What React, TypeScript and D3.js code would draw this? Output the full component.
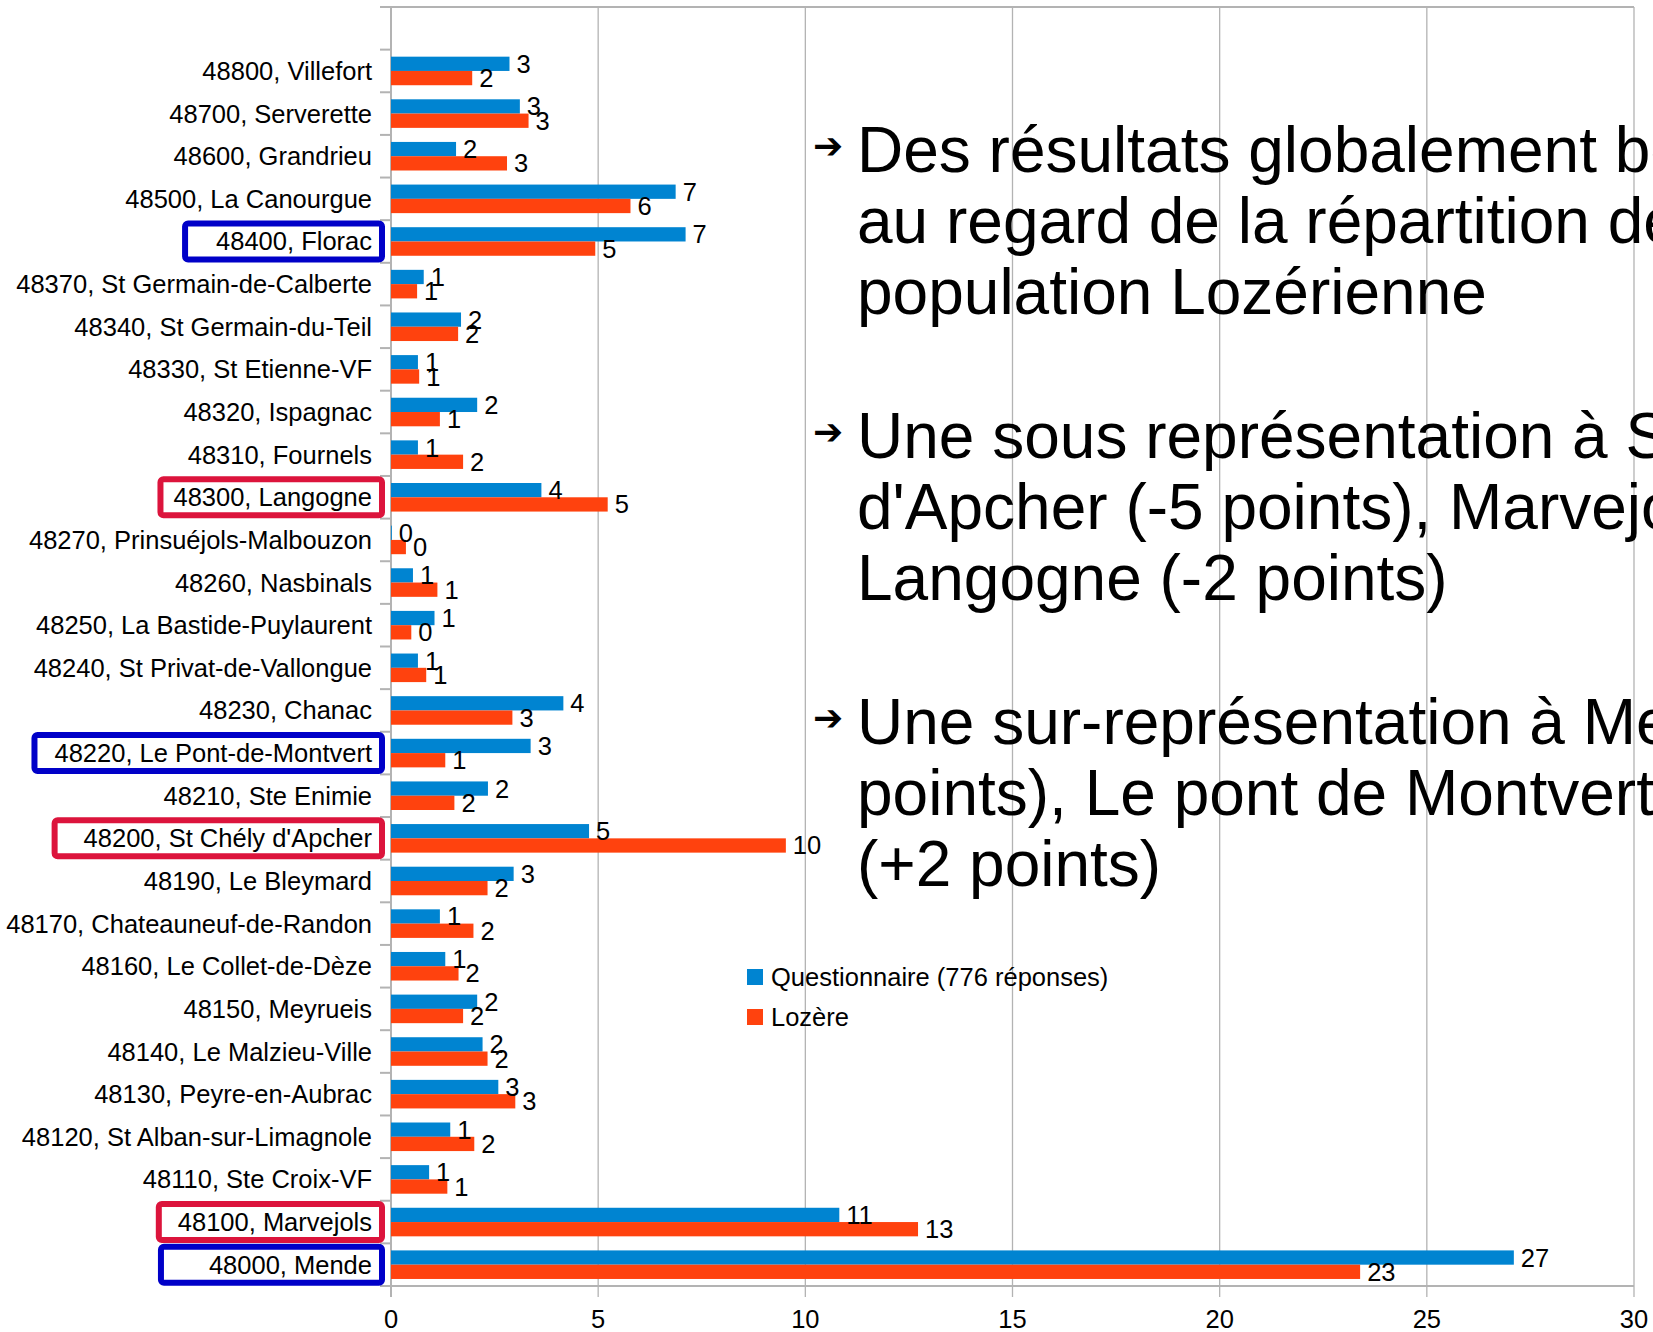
import React, { useMemo } from "react";
import * as d3 from "d3";

// ---------- data ----------
const categories = [
  "48800, Villefort",
  "48700, Serverette",
  "48600, Grandrieu",
  "48500, La Canourgue",
  "48400, Florac",
  "48370, St Germain-de-Calberte",
  "48340, St Germain-du-Teil",
  "48330, St Etienne-VF",
  "48320, Ispagnac",
  "48310, Fournels",
  "48300, Langogne",
  "48270, Prinsuéjols-Malbouzon",
  "48260, Nasbinals",
  "48250, La Bastide-Puylaurent",
  "48240, St Privat-de-Vallongue",
  "48230, Chanac",
  "48220, Le Pont-de-Montvert",
  "48210, Ste Enimie",
  "48200, St Chély d'Apcher",
  "48190, Le Bleymard",
  "48170, Chateauneuf-de-Randon",
  "48160, Le Collet-de-Dèze",
  "48150, Meyrueis",
  "48140, Le Malzieu-Ville",
  "48130, Peyre-en-Aubrac",
  "48120, St Alban-sur-Limagnole",
  "48110, Ste Croix-VF",
  "48100, Marvejols",
  "48000, Mende",
];

const questionnaire = [
  2.86, 3.11, 1.57, 6.87, 7.11, 0.79, 1.69, 0.65, 2.08, 0.65, 3.63, 0.02, 0.53,
  1.05, 0.65, 4.16, 3.37, 2.34, 4.78, 2.96, 1.18, 1.31, 2.08, 2.21, 2.59, 1.43,
  0.92, 10.82, 27.1,
];

const lozere = [
  1.96, 3.32, 2.8, 5.78, 4.93, 0.63, 1.62, 0.68, 1.18, 1.74, 5.23, 0.36, 1.12,
  0.49, 0.85, 2.93, 1.31, 1.53, 9.53, 2.33, 1.99, 1.63, 1.74, 2.33, 3.0, 2.01,
  1.36, 12.72, 23.39,
];

const seriesNames = ["Questionnaire (776 réponses)", "Lozère"];
const xTicks = [0, 5, 10, 15, 20, 25, 30];
const xDomain = [0, 30];

// highlighted categories (annotation boxes): kind "under" = red, "over" = blue
const highlightLabels = [
  "48400, Florac",
  "48300, Langogne",
  "48220, Le Pont-de-Montvert",
  "48200, St Chély d'Apcher",
  "48100, Marvejols",
  "48000, Mende",
];
const highlightKinds = ["over", "under", "over", "under", "under", "over"];
const highlightPads = [34, 16, 23, 32, 22, 51];

const paragraphs = [
  [
    "Des résultats globalement bons",
    "au regard de la répartition de la",
    "population Lozérienne",
  ],
  [
    "Une sous représentation à St Chély",
    "d'Apcher (-5 points), Marvejols et",
    "Langogne (-2 points)",
  ],
  [
    "Une sur-représentation à Mende (+4",
    "points), Le pont de Montvert et Florac",
    "(+2 points)",
  ],
];

// ---------- styles ----------
const W = 1653;
const H = 1332;
const FONT = "'Liberation Sans', Arial, Helvetica, sans-serif";
const FS = 25.5;
const BLUE = "#0084d1";
const RED = "#ff420e";
const GRID = "#b3b3b3";
const BOX_COLORS: Record<string, string> = { over: "#0000c8", under: "#dc143c" };

const M = { left: 391, right: 1634, top: 7, bottom: 1286 };

export default function App() {
  const x = useMemo(
    () => d3.scaleLinear().domain(xDomain).range([M.left, M.right]),
    []
  );
  const step = (M.bottom - M.top) / (categories.length + 1);
  const y = useMemo(
    () =>
      d3
        .scaleBand<string>()
        .domain(categories)
        .range([M.top + step, M.bottom])
        .paddingInner(0.33)
        .paddingOuter(0.165),
    [step]
  );
  const bw = y.bandwidth();
  const fmt = (v: number) => d3.format(".0f")(v);

  const measure = useMemo(() => {
    const c = document.createElement("canvas").getContext("2d");
    return (t: string, size: number) => {
      if (!c) return t.length * size * 0.5;
      c.font = `${size}px 'Liberation Sans', Arial, sans-serif`;
      return c.measureText(t).width;
    };
  }, []);

  const labelRight = M.left - 19;
  const boundaries = d3.range(categories.length + 2).map((i) => M.top + i * step);

  const lineGap = 71;
  const paraGap = 144;
  const textX = 857;
  let baseline = 172;
  const textLines: { t: string; y: number; bullet: boolean }[] = [];
  paragraphs.forEach((p, pi) => {
    if (pi > 0) baseline += paraGap - lineGap;
    p.forEach((t, li) => {
      textLines.push({ t, y: baseline, bullet: li === 0 });
      baseline += lineGap;
    });
  });

  return (
    <div style={{ position: "absolute", left: 0, top: 0, width: W, height: H, background: "#fff" }}>
      <svg width={W} height={H} style={{ display: "block", overflow: "hidden" }} fontFamily={FONT}>
        <rect x={0} y={0} width={W} height={H} fill="#fff" />
        {/* vertical gridlines */}
        {xTicks.map((t) => (
          <line
            key={"g" + t}
            x1={x(t)}
            x2={x(t)}
            y1={M.top}
            y2={M.bottom + 11}
            stroke={GRID}
            strokeWidth={t === 0 ? 2 : 1.3}
          />
        ))}
        {/* top border and bottom axis */}
        <line x1={M.left - 11} x2={M.right} y1={M.top} y2={M.top} stroke={GRID} strokeWidth={2} />
        <line x1={M.left} x2={M.right} y1={M.bottom} y2={M.bottom} stroke={GRID} strokeWidth={2} />
        {/* category ticks */}
        {boundaries.map((b, i) => (
          <line key={"t" + i} x1={M.left - 11} x2={M.left} y1={b} y2={b} stroke={GRID} strokeWidth={2} />
        ))}

        {/* bars */}
        {categories.map((c, i) => (
          <g key={"b" + i}>
            <rect x={x(0)} y={y(c)!} width={x(questionnaire[i]) - x(0)} height={bw / 2} fill={BLUE} />
            <rect x={x(0)} y={y(c)! + bw / 2} width={x(lozere[i]) - x(0)} height={bw / 2} fill={RED} />
          </g>
        ))}
        {/* value labels */}
        {categories.map((c, i) => (
          <g key={"l" + i} fontSize={FS} fill="#000">
            <text x={x(questionnaire[i]) + 7} y={y(c)! + bw / 4} dominantBaseline="central">
              {fmt(questionnaire[i])}
            </text>
            <text x={x(lozere[i]) + 7} y={y(c)! + (3 * bw) / 4} dominantBaseline="central">
              {fmt(lozere[i])}
            </text>
          </g>
        ))}

        {/* highlight boxes */}
        {highlightLabels.map((h, i) => {
          const cy = y(h)! + bw / 2;
          const w = measure(h, FS);
          const left = labelRight - w - highlightPads[i];
          const right = M.left - 6;
          return (
            <rect
              key={"h" + i}
              x={left + 3}
              y={cy - 18}
              width={right - left - 6}
              height={36}
              rx={3}
              fill="#fff"
              stroke={BOX_COLORS[highlightKinds[i]]}
              strokeWidth={6}
            />
          );
        })}

        {/* category labels */}
        {categories.map((c) => (
          <text
            key={"c" + c}
            x={labelRight}
            y={y(c)! + bw / 2}
            textAnchor="end"
            dominantBaseline="central"
            fontSize={FS}
            fill="#000"
          >
            {c}
          </text>
        ))}

        {/* x tick labels */}
        {xTicks.map((t) => (
          <text key={"x" + t} x={x(t)} y={1319} textAnchor="middle" dominantBaseline="central" fontSize={FS}>
            {t}
          </text>
        ))}

        {/* legend */}
        {seriesNames.map((s, i) => (
          <g key={"lg" + i}>
            <rect x={747} y={969 + i * 40} width={16} height={16} fill={i === 0 ? BLUE : RED} />
            <text x={771} y={977 + i * 40} dominantBaseline="central" fontSize={FS}>
              {s}
            </text>
          </g>
        ))}

        {/* commentary text */}
        {textLines.map((l, i) => (
          <g key={"tl" + i}>
            {l.bullet && (
              <text
                x={813}
                y={l.y - 27}
                dominantBaseline="central"
                fontSize={36}
                fontFamily="'DejaVu Sans', sans-serif"
              >
                ➔
              </text>
            )}
            <text x={textX} y={l.y} fontSize={64}>
              {l.t}
            </text>
          </g>
        ))}
      </svg>
    </div>
  );
}
